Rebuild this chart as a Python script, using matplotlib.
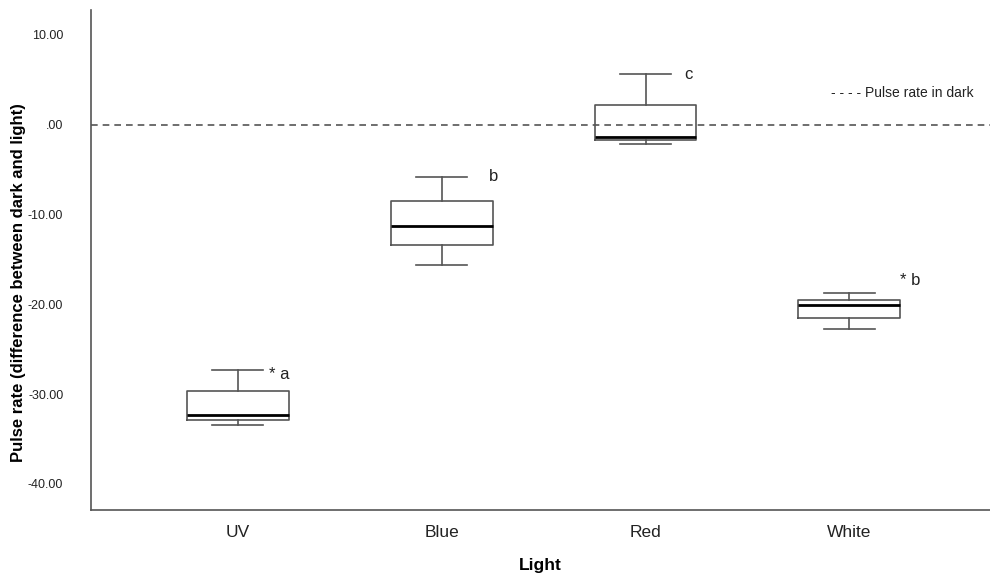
import matplotlib
matplotlib.use('Agg')
import matplotlib.pyplot as plt

plt.rcParams['font.family'] = ['Liberation Sans', 'DejaVu Sans']

lights = ['UV', 'Blue', 'Red', 'White']
whisk_hi = [-27.3, -5.8, 5.6, -18.8]
q3 = [-29.7, -8.55, 2.2, -19.5]
medians = [-32.35, -11.25, -1.35, -20.1]
q1 = [-32.9, -13.4, -1.7, -21.5]
whisk_lo = [-33.5, -15.6, -2.2, -22.8]
letters = ['* a', 'b', 'c', '* b']

stats = []
for i, name in enumerate(lights):
    stats.append({'label': name, 'whislo': whisk_lo[i], 'q1': q1[i], 'med': medians[i],
                  'q3': q3[i], 'whishi': whisk_hi[i], 'fliers': []})

fig = plt.figure(figsize=(9.9, 5.78), dpi=100)
ax = fig.add_axes([0.092, 0.118, 0.908, 0.865])

pos = list(range(len(lights)))
ax.bxp(stats, positions=pos, widths=0.5, showfliers=False,
       boxprops=dict(color='#555555', linewidth=1.2),
       whiskerprops=dict(color='#555555', linewidth=1.2),
       capprops=dict(color='#555555', linewidth=1.2),
       medianprops=dict(color='black', linewidth=2))

# reference line for pulse in the dark
ax.axhline(0, color='#555555', linestyle=(0, (4, 3)), linewidth=1.2, zorder=0)
ax.text(3.61, 3.5, '- - - - Pulse rate in dark', fontsize=10, color='#222222',
        ha='right', va='center')

# significance letters next to the upper caps
dx = [0.155, 0.23, 0.19, 0.25]
dy = [-0.5, 0.0, 0.0, 1.4]
for i, lab in enumerate(letters):
    ax.text(pos[i] + dx[i], whisk_hi[i] + dy[i], lab,
            fontsize=12, color='#222222', ha='left', va='center')

ax.set_xlim(-0.72, 3.69)
ax.set_ylim(-42.9, 12.8)
ax.set_yticks([10, 0, -10, -20, -30, -40])
ax.set_yticklabels(['10.00', '.00', '-10.00', '-20.00', '-30.00', '-40.00'])
ax.set_xticks(pos)
ax.set_xticklabels(lights)
ax.tick_params(axis='y', length=0, labelsize=9, pad=20, labelcolor='#222222')
ax.tick_params(axis='x', length=0, labelsize=12.5, pad=11, labelcolor='#222222')

for s in ['top', 'right']:
    ax.spines[s].set_visible(False)
for s in ['left', 'bottom']:
    ax.spines[s].set_color('#555555')
    ax.spines[s].set_linewidth(1.2)

fig.text(19 / 990, 1 - 283 / 578, 'Pulse rate (difference between dark and light)',
         rotation=90, fontsize=12, fontweight='bold', ha='center', va='center')
ax.set_xlabel('Light', fontsize=12.5, fontweight='bold', labelpad=13)

fig.savefig('out.png', dpi=100)
